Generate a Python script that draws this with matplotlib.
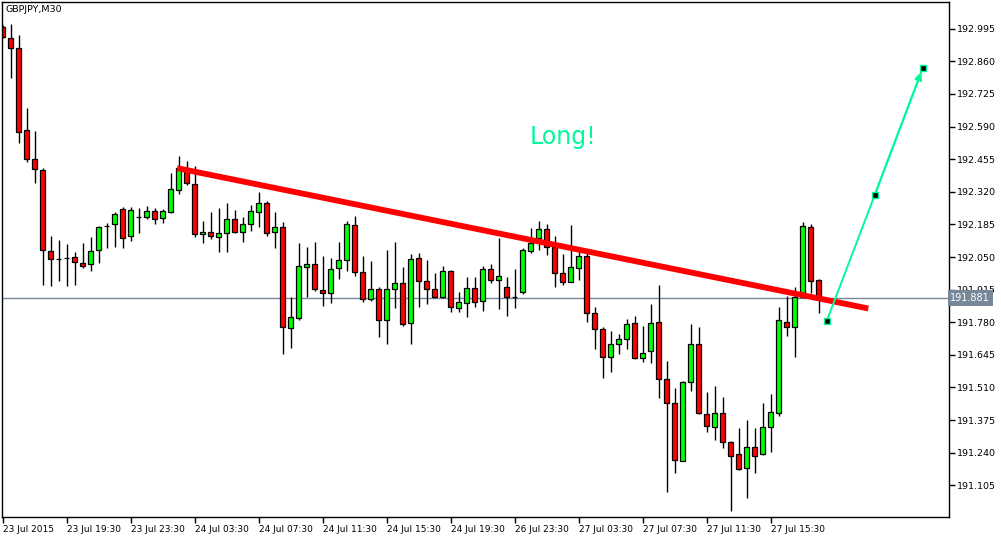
import matplotlib
matplotlib.use("Agg")
import matplotlib.pyplot as plt
import matplotlib.transforms as mtransforms
import numpy as np

# Velas de 30 minutos de GBPJPY
opens = [193.002, 192.957, 192.915, 192.576, 192.456, 192.410, 192.075, 192.042, 192.046, 192.050,
         192.025, 192.021, 192.079, 192.179, 192.187, 192.249, 192.137, 192.216, 192.216, 192.241,
         192.212, 192.236, 192.328, 192.414, 192.352, 192.145, 192.154, 192.133, 192.150, 192.207,
         192.154, 192.187, 192.236, 192.274, 192.154, 192.174, 191.756, 191.798, 192.009, 192.021,
         191.914, 191.901, 192.005, 192.038, 192.183, 191.988, 191.876, 191.918, 191.790, 191.918,
         191.943, 191.777, 192.046, 191.951, 191.918, 191.885, 191.992, 191.839, 191.860, 191.922,
         191.868, 192.001, 191.955, 191.926, 191.885, 191.905, 192.075, 192.129, 192.166, 192.092,
         191.984, 191.947, 192.005, 192.054, 191.818, 191.752, 191.636, 191.690, 191.711, 191.777,
         191.632, 191.661, 191.781, 191.545, 191.446, 191.206, 191.533, 191.690, 191.400, 191.347,
         191.405, 191.285, 191.235, 191.177, 191.264, 191.235, 191.347, 191.405, 191.781, 191.761,
         191.885, 192.174, 191.955]
closes = [192.961, 192.915, 192.568, 192.456, 192.414, 192.079, 192.042, 192.041, 192.046, 192.030,
          192.013, 192.075, 192.174, 192.178, 192.228, 192.129, 192.245, 192.216, 192.241, 192.207,
          192.241, 192.332, 192.419, 192.357, 192.145, 192.154, 192.137, 192.150, 192.207, 192.154,
          192.187, 192.241, 192.274, 192.150, 192.174, 191.761, 191.802, 192.013, 192.021, 191.918,
          191.901, 192.001, 192.038, 192.187, 191.988, 191.876, 191.918, 191.790, 191.918, 191.943,
          191.773, 192.042, 191.951, 191.918, 191.885, 191.992, 191.843, 191.864, 191.922, 191.864,
          192.001, 191.955, 191.972, 191.885, 191.884, 192.079, 192.108, 192.166, 192.092, 191.984,
          191.947, 192.009, 192.054, 191.818, 191.752, 191.636, 191.690, 191.711, 191.773, 191.632,
          191.653, 191.777, 191.545, 191.446, 191.210, 191.533, 191.690, 191.405, 191.351, 191.405,
          191.285, 191.227, 191.173, 191.264, 191.227, 191.347, 191.409, 191.790, 191.761, 191.885,
          192.179, 191.951, 191.881]
highs = [193.010, 193.014, 192.969, 192.667, 192.572, 192.419, 192.137, 192.121, 192.104, 192.071,
         192.108, 192.133, 192.178, 192.191, 192.236, 192.257, 192.257, 192.253, 192.261, 192.253,
         192.249, 192.398, 192.468, 192.448, 192.427, 192.199, 192.236, 192.253, 192.274, 192.245,
         192.216, 192.265, 192.319, 192.282, 192.236, 192.195, 191.883, 192.108, 192.092, 192.112,
         192.054, 192.046, 192.112, 192.199, 192.220, 192.054, 192.034, 191.926, 192.079, 192.112,
         192.009, 192.063, 192.067, 192.038, 191.984, 192.013, 191.996, 191.905, 191.967, 191.967,
         192.013, 192.021, 192.129, 191.967, 192.001, 192.088, 192.170, 192.199, 192.187, 192.137,
         192.063, 192.183, 192.092, 192.071, 191.843, 191.761, 191.744, 191.732, 191.794, 191.806,
         191.765, 191.856, 191.934, 191.620, 191.508, 191.535, 191.773, 191.761, 191.492, 191.516,
         191.471, 191.287, 191.343, 191.376, 191.343, 191.446, 191.483, 191.843, 191.889, 191.926,
         192.195, 192.187, 191.957]
lows = [192.958, 192.791, 192.522, 192.443, 192.357, 191.934, 191.930, 191.951, 191.930, 191.934,
        192.005, 191.992, 192.025, 192.088, 192.092, 192.088, 192.116, 192.150, 192.207, 192.187,
        192.191, 192.232, 192.311, 192.348, 192.133, 192.108, 192.125, 192.071, 192.071, 192.150,
        192.112, 192.158, 192.174, 192.137, 192.088, 191.649, 191.674, 191.790, 191.883, 191.909,
        191.847, 191.860, 191.959, 191.992, 191.972, 191.864, 191.868, 191.719, 191.690, 191.839,
        191.765, 191.690, 191.843, 191.856, 191.882, 191.881, 191.823, 191.823, 191.802, 191.843,
        191.827, 191.943, 191.835, 191.806, 191.839, 191.897, 192.067, 192.079, 192.059, 191.926,
        191.934, 191.945, 191.955, 191.781, 191.669, 191.549, 191.574, 191.649, 191.669, 191.628,
        191.616, 191.612, 191.467, 191.078, 191.156, 191.204, 191.496, 191.402, 191.326, 191.293,
        191.260, 190.999, 191.170, 191.053, 191.156, 191.232, 191.243, 191.392, 191.723, 191.636,
        191.882, 191.901, 191.818]

# Etiquetas del eje de tiempo (una cada 8 velas)
time_labels = ["23 Jul 2015", "23 Jul 19:30", "23 Jul 23:30", "24 Jul 03:30", "24 Jul 07:30",
               "24 Jul 11:30", "24 Jul 15:30", "24 Jul 19:30", "26 Jul 23:30", "27 Jul 03:30",
               "27 Jul 07:30", "27 Jul 11:30", "27 Jul 15:30"]
price_ticks = [191.105, 191.240, 191.375, 191.510, 191.645, 191.780, 191.915, 192.050,
               192.185, 192.320, 192.455, 192.590, 192.725, 192.860, 192.995]

# Linea de tendencia (indice de vela, precio) y flecha de proyeccion
trend_x = [21.8, 108.2]
trend_y = [192.418, 191.837]
arrow_x = [103, 109, 115]
arrow_y = [191.785, 192.306, 192.831]
bid = 191.881
symbol = "GBPJPY,M30"
note = "Long!"
note_x, note_y = 70, 192.547

green = "#00FA9A"

fig = plt.figure(figsize=(10.01, 5.38), dpi=100)
ax = fig.add_axes([2 / 1001, 21 / 538, 947 / 1001, 515 / 538])

o = np.array(opens)
c = np.array(closes)
h = np.array(highs)
l = np.array(lows)
idx = np.arange(len(o))

# Mechas
ax.vlines(idx, l, h, color="black", linewidth=1, zorder=1)
# Cuerpos: verde si sube, rojo si baja
up = c >= o
colors = np.where(up, "#00FF00", "#FF0000")
bottom = np.minimum(o, c)
height = np.maximum(np.abs(c - o), 0.0008)
ax.bar(idx, height, bottom=bottom, width=0.58, color=colors, edgecolor="black",
       linewidth=0.9, zorder=2)

# Linea del precio actual
ax.axhline(bid, color="#778899", linewidth=1, zorder=0.5)

# Tendencia roja
ax.plot(trend_x, trend_y, color="#FF0000", linewidth=4.2, solid_capstyle="butt", zorder=3)

# Flecha verde con sus puntos
ax.plot(arrow_x, arrow_y, color=green, linewidth=1.4, zorder=4)
ax.annotate("", xy=(arrow_x[-1], arrow_y[-1]), xytext=(arrow_x[1], arrow_y[1]),
            arrowprops=dict(arrowstyle="-|>", color=green, lw=1.4, mutation_scale=11,
                            shrinkA=0, shrinkB=3), zorder=4)
ax.plot(arrow_x, arrow_y, linestyle="none", marker="s", markersize=4.5,
        markerfacecolor="black", markeredgecolor=green, markeredgewidth=1, zorder=5)

ax.text(note_x, note_y, note, color=green, fontsize=17, ha="center", va="center")
ax.text(0.004, 0.995, symbol, transform=ax.transAxes, fontsize=6.8, ha="left", va="top")

# Ejes
ax.set_xlim(-0.09, 118.29)
ax.set_ylim(190.974, 193.1055)
ax.set_xticks(np.arange(len(time_labels)) * 8)
ax.set_xticklabels(time_labels, ha="left", fontsize=6.5)
ax.yaxis.tick_right()
ax.set_yticks(price_ticks)
ax.set_yticklabels(["%.3f" % p for p in price_ticks], fontsize=6.8)
ax.tick_params(axis="x", direction="out", length=4, pad=2, width=1)
ax.tick_params(axis="y", direction="out", length=4, pad=1.5, width=1)
for s in ax.spines.values():
    s.set_color("black")
    s.set_linewidth(1)

# Etiqueta del bid a la derecha
trans = mtransforms.blended_transform_factory(ax.transAxes, ax.transData)
ax.text(1.0015, bid, "%.3f" % bid, transform=trans, color="white", fontsize=7,
        ha="left", va="center",
        bbox=dict(facecolor="#778899", edgecolor="none", pad=2), zorder=6)

fig.savefig("out.png", dpi=100, facecolor="white")
